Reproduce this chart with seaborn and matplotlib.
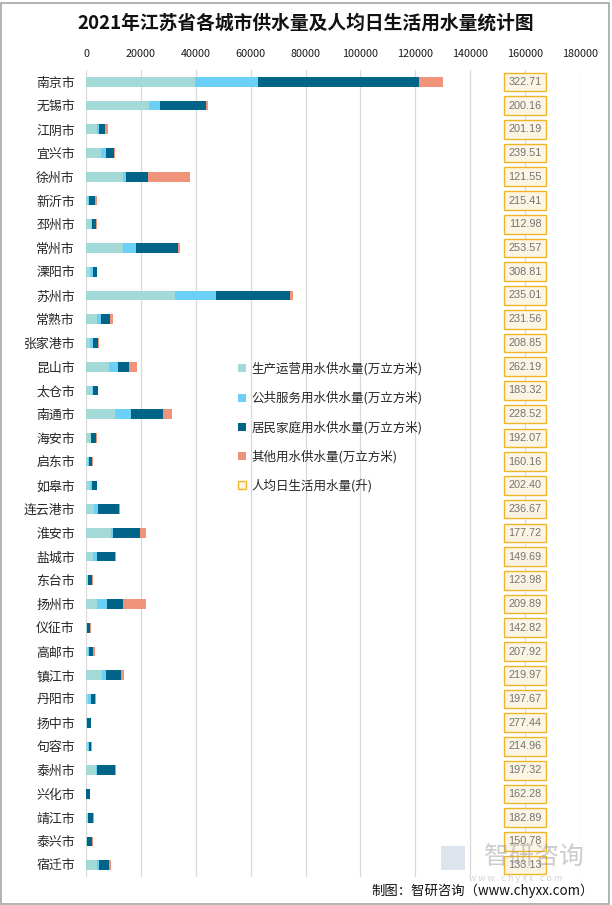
import matplotlib
matplotlib.use("Agg")
import matplotlib.pyplot as plt
import seaborn as sns
import pandas as pd
import numpy as np
from matplotlib.patches import Patch, Rectangle

cities = ["南京市", "无锡市", "江阴市", "宜兴市", "徐州市", "新沂市", "邳州市", "常州市", "溧阳市",
          "苏州市", "常熟市", "张家港市", "昆山市", "太仓市", "南通市", "海安市", "启东市", "如皋市",
          "连云港市", "淮安市", "盐城市", "东台市", "扬州市", "仪征市", "高邮市", "镇江市", "丹阳市",
          "扬中市", "句容市", "泰州市", "兴化市", "靖江市", "泰兴市", "宿迁市"]
production = [39750, 23030, 4120, 5580, 13570, 600, 1940, 13570, 1330, 32480, 4120, 1330, 8480, 2300,
              10670, 1820, 730, 1580, 3030, 9210, 2670, 730, 4120, 240, 730, 5940, 850, 240, 730, 3640,
              120, 850, 480, 4120]
public = [22900, 4000, 730, 1820, 1090, 600, 120, 4730, 1330, 14910, 1450, 1330, 3270, 120, 5820, 120,
          480, 730, 1450, 730, 1450, 120, 3640, 240, 480, 1450, 1090, 0, 240, 240, 0, 0, 0, 730]
household = [58540, 16730, 2180, 2910, 8000, 2180, 1450, 15270, 1450, 26910, 3270, 1820, 4000, 1820,
             11640, 1820, 1090, 1820, 7640, 9820, 6540, 1450, 5820, 1090, 1450, 5450, 1450, 1580, 970,
             6790, 1450, 1820, 1820, 3640]
other = [8730, 730, 1090, 360, 15270, 730, 360, 730, 0, 1090, 1090, 360, 2910, 240, 3270, 360, 360, 0,
         360, 2180, 360, 360, 8360, 360, 730, 1090, 360, 0, 360, 360, 0, 360, 360, 730]
per_capita = [322.71, 200.16, 201.19, 239.51, 121.55, 215.41, 112.98, 253.57, 308.81, 235.01, 231.56,
              208.85, 262.19, 183.32, 228.52, 192.07, 160.16, 202.40, 236.67, 177.72, 149.69, 123.98,
              209.89, 142.82, 207.92, 219.97, 197.67, 277.44, 214.96, 197.32, 162.28, 182.89, 150.78,
              133.13]
series_names = ["生产运营用水供水量(万立方米)", "公共服务用水供水量(万立方米)",
                "居民家庭用水供水量(万立方米)", "其他用水供水量(万立方米)"]
percap_name = "人均日生活用水量(升)"
x_ticks = [0, 20000, 40000, 60000, 80000, 100000, 120000, 140000, 160000, 180000]
title = "2021年江苏省各城市供水量及人均日生活用水量统计图"

colors = ["#A3D9D6", "#6BCFF6", "#006489", "#EF937A"]

sns.set_style("white")
plt.rcParams['font.family'] = ['Noto Sans CJK SC', 'DejaVu Sans']

df = pd.DataFrame({"city": cities, "p": production, "s": public, "h": household, "o": other})
df["c1"] = df["p"]
df["c2"] = df["c1"] + df["s"]
df["c3"] = df["c2"] + df["h"]
df["c4"] = df["c3"] + df["o"]

W, H = 612, 905
fig = plt.figure(figsize=(W / 100, H / 100), dpi=100)
ax = fig.add_axes([86 / W, 1 - 877 / H, (580 - 86) / W, (877 - 70) / H])

for col, c in zip(["c4", "c3", "c2", "c1"], colors[::-1]):
    sns.barplot(data=df, y="city", x=col, color=c, orient="h", width=0.41,
                saturation=1, linewidth=0, ax=ax, zorder=3)

ax.set_xlim(0, 180000)
ax.set_xticks(x_ticks)
ax.set_xticklabels([str(t) for t in x_ticks], fontsize=7.8, color="#1a1a1a")
ax.xaxis.tick_top()
ax.tick_params(axis="x", length=0, pad=8)
ax.tick_params(axis="y", length=0, pad=8, labelsize=9.3)
ax.set_xlabel("")
ax.set_ylabel("")
for s in ax.spines.values():
    s.set_visible(False)
ax.grid(axis="x", color="#D9D9D9", linewidth=0.9, zorder=0)
ax.grid(axis="y", visible=False)
ax.set_axisbelow(True)

for i, v in enumerate(per_capita):
    ax.text(160000, i, f"{v:.2f}", ha="center", va="center", fontsize=7.8,
            family=["Liberation Sans", "DejaVu Sans"], color="#737373", zorder=5,
            bbox=dict(boxstyle="square,pad=0.40", fc="#FDF5E4", ec="#F0B429", lw=1.0))

handles = [Patch(facecolor=c, edgecolor="none", label=n) for c, n in zip(colors, series_names)]
handles.append(Patch(facecolor="#FDF5E4", edgecolor="#F0B429", linewidth=1.0, label=percap_name))
fig.legend(handles=handles, loc="upper left", bbox_to_anchor=(232 / W, 1 - 356 / H),
           frameon=False, fontsize=9, handlelength=0.6, handleheight=0.6,
           handletextpad=0.45, labelspacing=1.25, borderpad=0)

fig.text(306 / W, 1 - 23 / H, title, ha="center", va="center", fontsize=13.5,
         fontweight="bold", color="#111111")

# watermark
fig.patches.append(Rectangle((441 / W, 1 - 870 / H), 24 / W, 24 / H, transform=fig.transFigure,
                             facecolor="#C9D3E2", edgecolor="none", alpha=0.6, zorder=0))
fig.text(534 / W, 1 - 857 / H, "智研咨询", ha="center", va="center", fontsize=18,
         color="#9A9A9A", alpha=0.5, zorder=0)
fig.text(516 / W, 1 - 878 / H, "w w w . c h y x x . c o m", ha="center", va="center", fontsize=6.5,
         color="#A8A8A8", alpha=0.5, zorder=0)

fig.text(594 / W, 1 - 891 / H, "制图：智研咨询（www.chyxx.com）", ha="right", va="center",
         fontsize=9.6, color="#111111")

fig.patches.append(Rectangle((1 / W, 1 / H), (W - 4) / W, (H - 4) / H, transform=fig.transFigure,
                             fill=False, edgecolor="#A6A6A6", linewidth=1.2))

fig.savefig("out.png", dpi=100)
